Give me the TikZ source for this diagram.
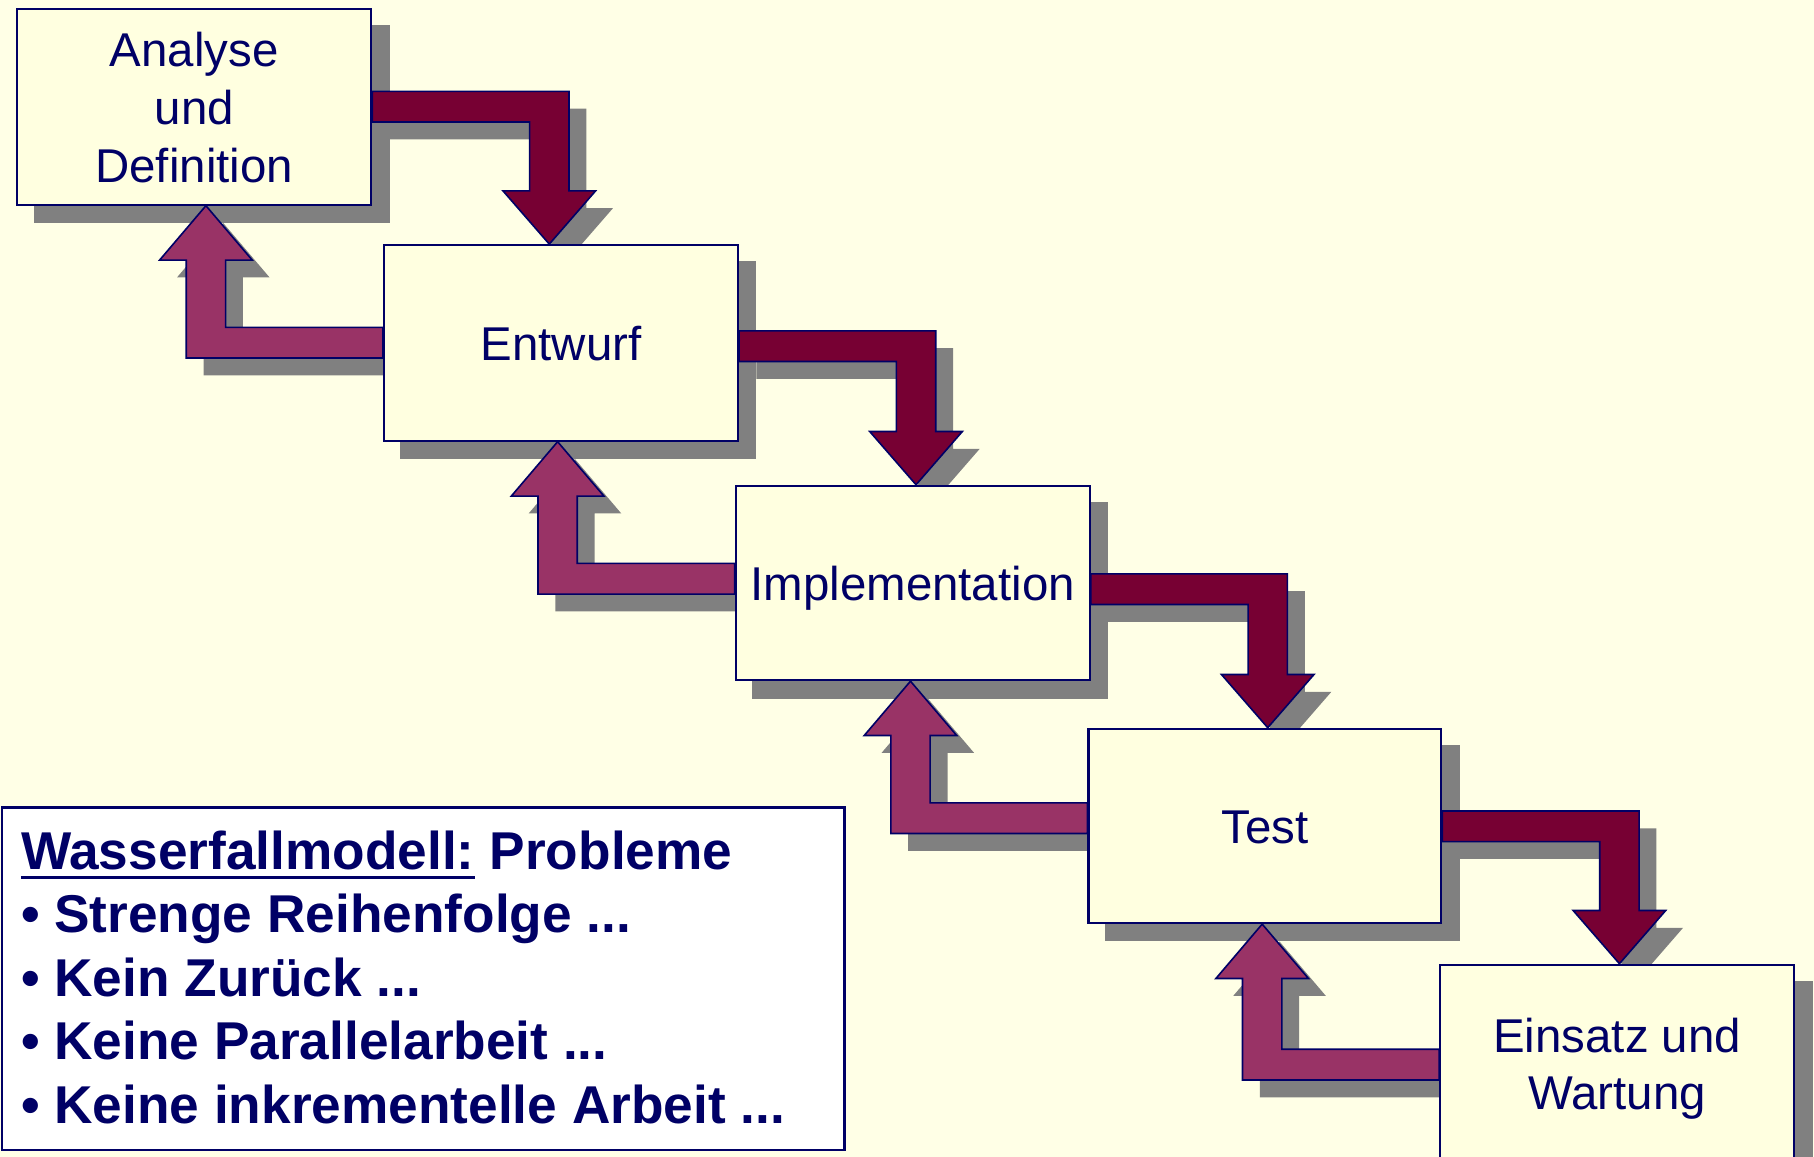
\documentclass[tikz,border=0pt]{standalone}
\usepackage{fontspec}
\setmainfont{Liberation Sans}
\usetikzlibrary{calc}
\pgfdeclarelayer{shadowlayer}
\pgfdeclarelayer{arrowlayer}
\pgfsetlayers{shadowlayer,arrowlayer,main}
\definecolor{bgc}{HTML}{FFFFE6}
\definecolor{boxc}{HTML}{FFFFE0}
\definecolor{navy}{HTML}{000066}
\definecolor{fwdc}{HTML}{770033}
\definecolor{bckc}{HTML}{993366}
\definecolor{shc}{HTML}{808080}
\tikzset{
  phase/.style={draw=navy, line width=1.8pt, fill=boxc, minimum width=306pt,
    minimum height=169pt, inner sep=0pt, anchor=north west},
  phasetext/.style={text=navy, font=\fontsize{41}{50}\selectfont, inner sep=0pt, anchor=base},
  probtext/.style={text=navy, font=\fontsize{46}{55}\selectfont\bfseries, inner sep=0pt, anchor=base west},
  fwdarrow/.style={fill=fwdc, draw=navy, line width=1.4pt, line join=miter},
  bckarrow/.style={fill=bckc, draw=navy, line width=1.4pt, line join=miter},
  shadowfill/.style={fill=shc},
}
% forward arrow: #1 from, #2 to, #3 band offset, #4 dx, #5 dy (down), #6 style
\newcommand\fwdpath[6]{%
  \path[#6] let \p1=([yshift=-#3pt]#1.north east), \p2=(#2.north) in
   ({\x1+#4pt},{\y1-#5pt}) -- ({\x1+170pt+#4pt},{\y1-#5pt})
   -- ({\x1+170pt+#4pt},{\y2+46pt-#5pt}) -- ({\x1+193pt+#4pt},{\y2+46pt-#5pt})
   -- ({\x1+153pt+#4pt},{\y2-#5pt}) -- ({\x1+113pt+#4pt},{\y2+46pt-#5pt})
   -- ({\x1+136pt+#4pt},{\y2+46pt-#5pt}) -- ({\x1+136pt+#4pt},{\y1-26.5pt-#5pt})
   -- ({\x1+#4pt},{\y1-26.5pt-#5pt}) -- cycle;}
% backward arrow: #1 from (lower), #2 to (upper)
\newcommand\bckpath[6]{%
  \path[#6] let \p1=([yshift=-#3pt]#1.north west), \p2=(#2.south) in
   ({\x1+#4pt},{\y1-#5pt}) -- ({\x1-136pt+#4pt},{\y1-#5pt})
   -- ({\x1-136pt+#4pt},{\y2-47pt-#5pt}) -- ({\x1-113pt+#4pt},{\y2-47pt-#5pt})
   -- ({\x1-153pt+#4pt},{\y2-#5pt}) -- ({\x1-193pt+#4pt},{\y2-47pt-#5pt})
   -- ({\x1-170pt+#4pt},{\y2-47pt-#5pt}) -- ({\x1-170pt+#4pt},{\y1-26.5pt-#5pt})
   -- ({\x1+#4pt},{\y1-26.5pt-#5pt}) -- cycle;}
\begin{document}
\begin{tikzpicture}[x=1pt,y=-1pt]
\useasboundingbox (0,0) rectangle (1568,1000);
% phase boxes
\node[phase] (A) at (14,7) {};
\node[phase] (B) at (331,211) {};
\node[phase, minimum height=168pt] (C) at (635,419) {};
\node[phase, minimum width=305pt, minimum height=168pt] (D) at (940,629) {};
\node[phase] (E) at (1244,833) {};
% texts
\node[phasetext] (A1) at ([yshift=35pt]A.center) {Analyse};
\node[phasetext] (A2) at ([yshift=-15pt]A.center) {und};
\node[phasetext] (A3) at ([yshift=-65pt]A.center) {Definition};
\node[phasetext] (B1) at ([yshift=-15pt]B.center) {Entwurf};
\node[phasetext] (C1) at ([yshift=-15pt]C.center) {Implementation};
\node[phasetext] (D1) at ([yshift=-15pt]D.center) {Test};
\node[phasetext] (E1) at ([yshift=9pt]E.center) {Einsatz und};
\node[phasetext] (E2) at ([yshift=-40.5pt]E.center) {Wartung};
% problems box
\node[draw=navy, line width=2pt, fill=white, minimum width=728pt, minimum height=296pt,
  inner sep=0pt, anchor=north west] (probs) at (1,697) {};
\node[probtext] (p1) at ([shift={(17pt,-54.5pt)}]probs.north west) {Wasserfallmodell:};
\node[probtext] (p1b) at ([xshift=12.8pt]p1.base east) {Probleme};
\draw[navy, line width=3pt] ([yshift=-7pt]p1.base west) -- ([yshift=-7pt]p1.base east);
\node[probtext] (p2) at ([shift={(17pt,-109pt)}]probs.north west) {• Strenge Reihenfolge ...};
\node[probtext] (p3) at ([shift={(17pt,-164pt)}]probs.north west) {• Kein Zurück ...};
\node[probtext] (p4) at ([shift={(17pt,-219pt)}]probs.north west) {• Keine Parallelarbeit ...};
\node[probtext] (p5) at ([shift={(17pt,-274pt)}]probs.north west) {• Keine inkrementelle Arbeit ...};
% arrows
\begin{pgfonlayer}{arrowlayer}
\fwdpath{A}{B}{72}{0}{0}{fwdarrow}
\fwdpath{B}{C}{75}{0}{0}{fwdarrow}
\fwdpath{C}{D}{77}{0}{0}{fwdarrow}
\fwdpath{D}{E}{72}{0}{0}{fwdarrow}
\bckpath{B}{A}{72}{0}{0}{bckarrow}
\bckpath{C}{B}{68}{0}{0}{bckarrow}
\bckpath{D}{C}{65}{0}{0}{bckarrow}
\bckpath{E}{D}{74}{0}{0}{bckarrow}
\end{pgfonlayer}
% shadows
\begin{pgfonlayer}{shadowlayer}
\fill[bgc] (0,0) rectangle (1568,1000);
\foreach \n in {A,B,C,D,E}
  \fill[shc] ([shift={(15pt,-15pt)}]\n.north west) rectangle ([shift={(15pt,-15pt)}]\n.south east);
\fwdpath{A}{B}{72}{15}{15}{shadowfill}
\fwdpath{B}{C}{75}{15}{15}{shadowfill}
\fwdpath{C}{D}{77}{15}{15}{shadowfill}
\fwdpath{D}{E}{72}{15}{15}{shadowfill}
\bckpath{B}{A}{72}{15}{15}{shadowfill}
\bckpath{C}{B}{68}{15}{15}{shadowfill}
\bckpath{D}{C}{65}{15}{15}{shadowfill}
\bckpath{E}{D}{74}{15}{15}{shadowfill}
\end{pgfonlayer}
\end{tikzpicture}
\end{document}
